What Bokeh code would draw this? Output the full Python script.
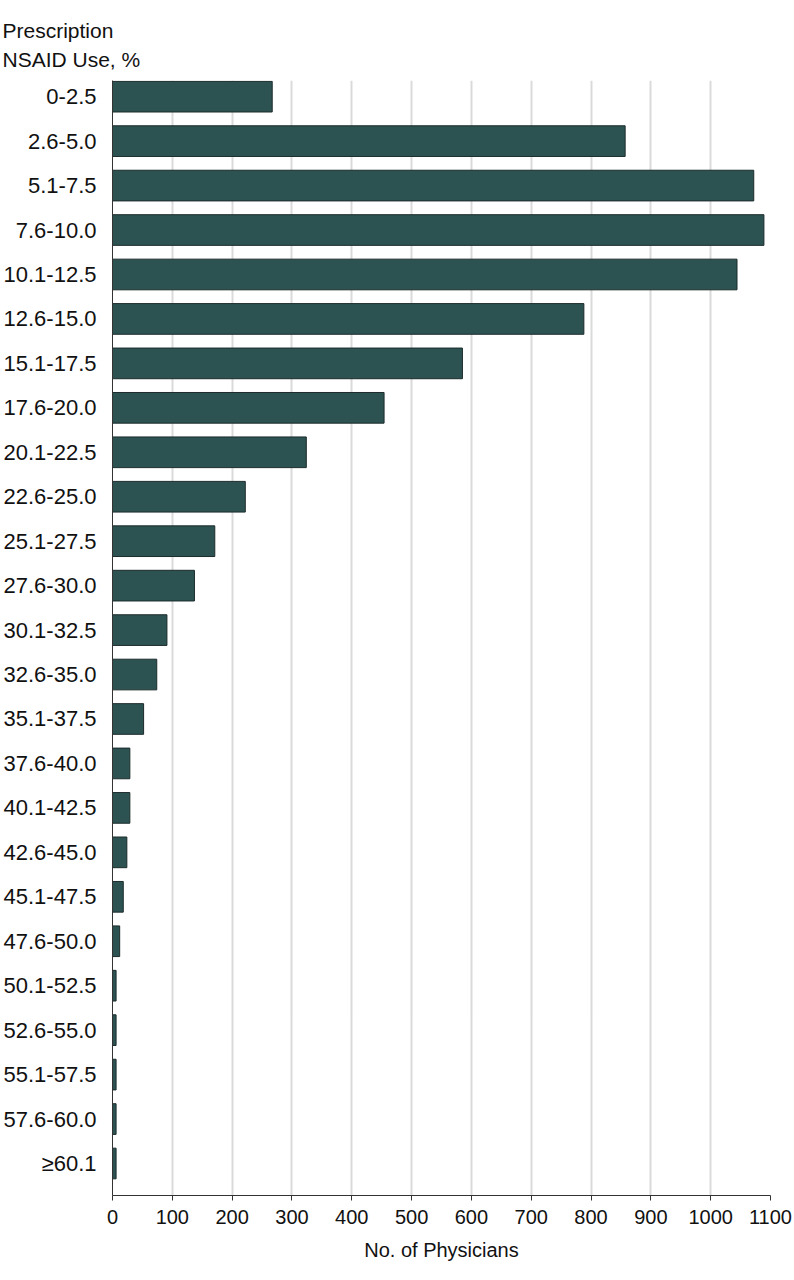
from bokeh.plotting import figure
from bokeh.models import Range1d, FixedTicker
from bokeh.embed import file_html
from bokeh.resources import INLINE

categories = ["0-2.5", "2.6-5.0", "5.1-7.5", "7.6-10.0", "10.1-12.5", "12.6-15.0",
              "15.1-17.5", "17.6-20.0", "20.1-22.5", "22.6-25.0", "25.1-27.5",
              "27.6-30.0", "30.1-32.5", "32.6-35.0", "35.1-37.5", "37.6-40.0",
              "40.1-42.5", "42.6-45.0", "45.1-47.5", "47.6-50.0", "50.1-52.5",
              "52.6-55.0", "55.1-57.5", "57.6-60.0", "≥60.1"]
physicians = [267, 857, 1072, 1089, 1044, 788, 585, 454, 324, 222, 171, 137, 91,
              74, 52, 29, 29, 24, 18, 12, 6, 6, 6, 6, 6]
x_ticks = [0, 100, 200, 300, 400, 500, 600, 700, 800, 900, 1000, 1100]
title_lines = ["Prescription", "NSAID Use, %"]
x_title = "No. of Physicians"

FONT = "Liberation Sans"
positions = list(range(len(categories)))

p = figure(width=792, height=1278, output_backend="svg", toolbar_location=None,
           x_range=Range1d(0, 1100), y_range=Range1d(24.72, -0.364),
           min_border_left=112, min_border_right=22, min_border_top=80,
           min_border_bottom=83)
p.outline_line_color = None
p.background_fill_color = "white"

p.title.text = "\n".join(title_lines)
p.title.align = "left"
p.title.offset = -110
p.title.text_font = FONT
p.title.text_font_size = "21px"
p.title.text_font_style = "normal"
p.title.text_color = "#111111"
p.title.text_line_height = 1.25
p.title.standoff = 19

p.hbar(y=positions, left=0, right=physicians, height=0.69,
       fill_color="#2c5352", line_color="#1c2b2b", line_width=1)

# x axis
p.xaxis.ticker = FixedTicker(ticks=x_ticks)
p.xaxis.axis_label = x_title
p.xaxis.axis_label_text_font = FONT
p.xaxis.axis_label_text_font_size = "20px"
p.xaxis.axis_label_text_font_style = "normal"
p.xaxis.axis_label_text_color = "#111111"
p.xaxis.axis_label_standoff = 12
p.xaxis.major_label_text_font = FONT
p.xaxis.major_label_text_font_size = "20px"
p.xaxis.major_label_text_color = "#111111"
p.xaxis.major_label_standoff = 9
p.xaxis.major_tick_out = 5
p.xaxis.major_tick_in = 0
p.xaxis.minor_tick_line_color = None
p.xaxis.axis_line_color = "#333333"
p.xaxis.major_tick_line_color = "#333333"

# y axis
p.yaxis.ticker = FixedTicker(ticks=positions)
p.yaxis.major_label_overrides = {i: c for i, c in zip(positions, categories)}
p.yaxis.major_label_text_font = FONT
p.yaxis.major_label_text_font_size = "22px"
p.yaxis.major_label_text_color = "#111111"
p.yaxis.major_label_standoff = 10
p.yaxis.major_tick_line_color = None
p.yaxis.minor_tick_line_color = None
p.yaxis.axis_line_color = "#333333"

p.xgrid.grid_line_color = "#dadada"
p.xgrid.grid_line_width = 2
p.ygrid.grid_line_color = None

open("out.html", "w").write(file_html(p, INLINE))
